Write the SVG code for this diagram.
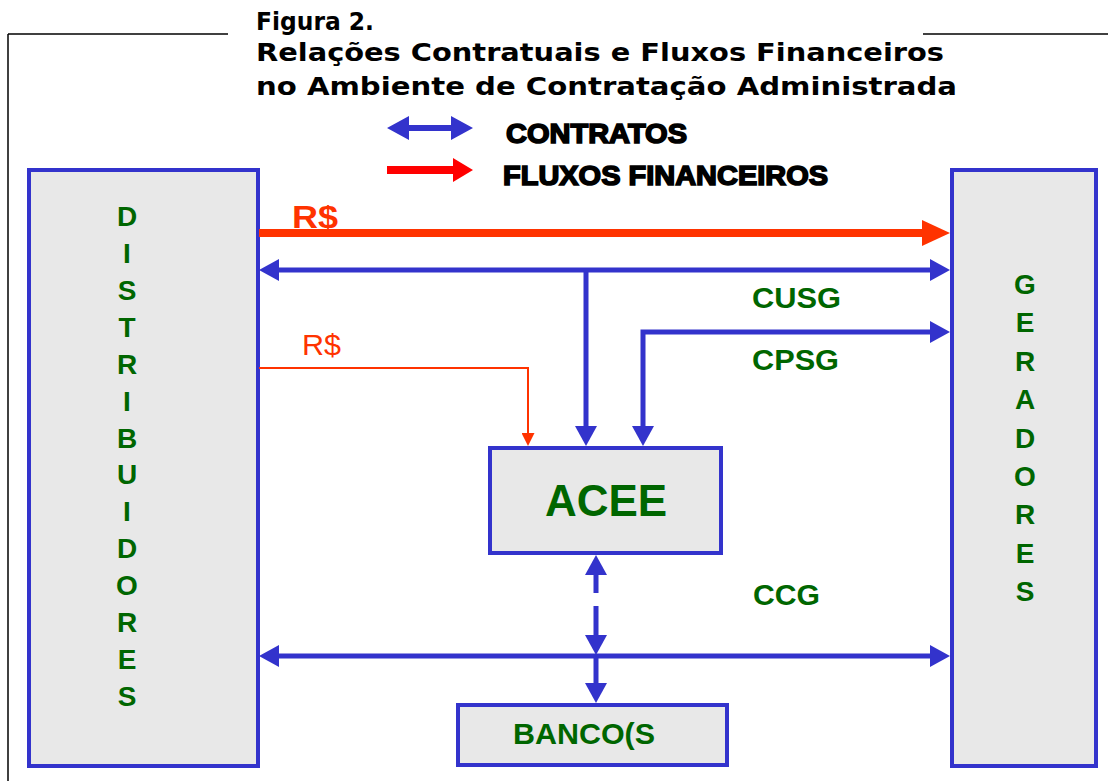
<svg xmlns="http://www.w3.org/2000/svg" width="1108" height="781" viewBox="0 0 1108 781">
<style>
.frame{stroke:#000;stroke-width:1.5;fill:none}
.title{font-family:"DejaVu Sans",Verdana,sans-serif;font-weight:bold;font-size:25px;fill:#000}
.legend{font-family:"Liberation Sans",Arial,sans-serif;font-weight:bold;font-size:27px;fill:#000;stroke:#000;stroke-width:1.6}
.box{fill:#e8e8e8;stroke:#3333cc;stroke-width:4}
.g{font-family:"Liberation Sans",Arial,sans-serif;font-weight:bold;fill:#006600}
.vl{font-size:28px;text-anchor:middle}
.blue{stroke:#3333cc;stroke-width:5;fill:none}
.redthick{stroke:#ff3300;stroke-width:8;fill:none}
.redthin{stroke:#ff3300;stroke-width:2;fill:none}
.red{font-family:"Liberation Sans",Arial,sans-serif;fill:#ff3300}
</style>
<defs>
<marker id="ab" viewBox="0 0 20 22" refX="12" refY="11" markerWidth="20" markerHeight="22" markerUnits="userSpaceOnUse" orient="auto-start-reverse">
<path d="M0,0 L20,11 L0,22 z" fill="#3333cc"/>
</marker>
<marker id="ar" viewBox="0 0 28 26" refX="18" refY="13" markerWidth="28" markerHeight="26" markerUnits="userSpaceOnUse" orient="auto">
<path d="M0,0 L28,13 L0,26 z" fill="#ff3300"/>
</marker>
<marker id="ars" viewBox="0 0 13 13" refX="7" refY="6.5" markerWidth="13" markerHeight="13" markerUnits="userSpaceOnUse" orient="auto">
<path d="M0,0 L13,6.5 L0,13 z" fill="#ff3300"/>
</marker>
</defs>

<g id="frame">
<line class="frame" x1="8" y1="34" x2="228" y2="34"/>
<line class="frame" x1="923" y1="34" x2="1108" y2="34"/>
<line class="frame" x1="8" y1="34" x2="8" y2="781"/>
</g>

<g id="title">
<text class="title" x="256" y="30" textLength="118" lengthAdjust="spacingAndGlyphs">Figura 2.</text>
<text class="title" x="256" y="61" textLength="688" lengthAdjust="spacingAndGlyphs">Relações Contratuais e Fluxos Financeiros</text>
<text class="title" x="256" y="95" textLength="701" lengthAdjust="spacingAndGlyphs">no Ambiente de Contratação Administrada</text>
</g>

<g id="legend">
<polygon points="387,128 409,116 409,125 451,125 451,116 473,128 451,140 451,131 409,131 409,140" fill="#3333cc"/>
<polygon points="387,166 453,166 453,158 473,170 453,182 453,174 387,174" fill="#ff0000"/>
<text class="legend" x="506" y="143" textLength="181" lengthAdjust="spacingAndGlyphs">CONTRATOS</text>
<text class="legend" x="503" y="185" textLength="325" lengthAdjust="spacingAndGlyphs">FLUXOS FINANCEIROS</text>
</g>

<g id="distribuidores">
<rect class="box" x="29" y="170" width="229" height="596"/>
<text class="g vl" x="127"><tspan x="127" y="226">D</tspan><tspan x="127" y="263">I</tspan><tspan x="127" y="300">S</tspan><tspan x="127" y="337">T</tspan><tspan x="127" y="374">R</tspan><tspan x="127" y="411">I</tspan><tspan x="127" y="448">B</tspan><tspan x="127" y="484">U</tspan><tspan x="127" y="521">I</tspan><tspan x="127" y="558">D</tspan><tspan x="127" y="595">O</tspan><tspan x="127" y="632">R</tspan><tspan x="127" y="669">E</tspan><tspan x="127" y="706">S</tspan></text>
</g>

<g id="geradores">
<rect class="box" x="952" y="170" width="144" height="596"/>
<text class="g vl" x="1025"><tspan x="1025" y="294">G</tspan><tspan x="1025" y="332">E</tspan><tspan x="1025" y="371">R</tspan><tspan x="1025" y="409">A</tspan><tspan x="1025" y="448">D</tspan><tspan x="1025" y="486">O</tspan><tspan x="1025" y="524">R</tspan><tspan x="1025" y="563">E</tspan><tspan x="1025" y="601">S</tspan></text>
</g>

<g id="acee">
<rect class="box" x="490" y="448" width="231" height="105"/>
<text class="g" x="606" y="516" font-size="44" text-anchor="middle">ACEE</text>
</g>

<g id="bancos">
<rect class="box" x="458" y="705" width="269" height="60"/>
<text class="g" x="513" y="744" font-size="30" textLength="142" lengthAdjust="spacingAndGlyphs">BANCO(S</text>
</g>

<g id="connectors">
<line class="redthick" x1="259" y1="233" x2="940" y2="233" marker-end="url(#ar)"/>
<line class="blue" x1="267" y1="270" x2="942" y2="270" marker-start="url(#ab)" marker-end="url(#ab)"/>
<line class="blue" x1="586" y1="270" x2="586" y2="438" marker-end="url(#ab)"/>
<path class="blue" d="M643,438 L643,332 L942,332" marker-start="url(#ab)" marker-end="url(#ab)"/>
<path class="redthin" d="M259,368 L528,368 L528,440" marker-end="url(#ars)"/>
<line class="blue" x1="596" y1="563" x2="596" y2="647" stroke-dasharray="30 13" marker-start="url(#ab)" marker-end="url(#ab)"/>
<line class="blue" x1="267" y1="656" x2="942" y2="656" marker-start="url(#ab)" marker-end="url(#ab)"/>
<line class="blue" x1="596" y1="656" x2="596" y2="695" marker-end="url(#ab)"/>
</g>

<g id="labels">
<text class="red" x="292" y="228" font-size="32" font-weight="bold" textLength="46" lengthAdjust="spacingAndGlyphs">R$</text>
<text class="red" x="302" y="355" font-size="29" textLength="39" lengthAdjust="spacingAndGlyphs">R$</text>
<text class="g" x="752" y="308" font-size="29" textLength="89" lengthAdjust="spacingAndGlyphs">CUSG</text>
<text class="g" x="752" y="370" font-size="29" textLength="87" lengthAdjust="spacingAndGlyphs">CPSG</text>
<text class="g" x="753" y="605" font-size="29" textLength="67" lengthAdjust="spacingAndGlyphs">CCG</text>
</g>
</svg>
